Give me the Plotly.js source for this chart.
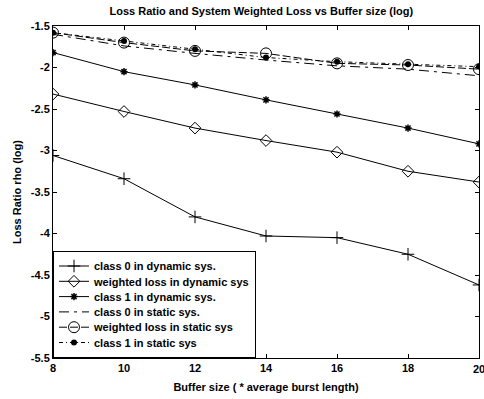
<!DOCTYPE html>
<html>
<head>
<meta charset="utf-8">
<script src="https://cdn.plot.ly/plotly-3.0.1.min.js"></script>
<style>html,body{margin:0;padding:0;background:#fff;}</style>
</head>
<body>
<div id="chart" style="width:484px;height:399px;"></div>
<script>
const bufferSize = [8, 10, 12, 14, 16, 18, 20];
const class0Dynamic = [-3.06, -3.34, -3.80, -4.03, -4.05, -4.25, -4.62];
const weightedDynamic = [-2.32, -2.53, -2.73, -2.88, -3.02, -3.25, -3.38];
const class1Dynamic = [-1.82, -2.05, -2.21, -2.39, -2.56, -2.73, -2.92];
const class0Static = [-1.60, -1.74, -1.83, -1.91, -1.98, -2.02, -2.10];
const weightedStatic = [-1.58, -1.70, -1.80, -1.83, -1.95, -1.97, -2.02];
const class1Static = [-1.58, -1.68, -1.78, -1.88, -1.93, -1.96, -1.99];
const seriesNames = ["class 0 in dynamic sys.", "weighted loss in dynamic sys", "class 1 in dynamic sys.",
  "class 0 in static sys.", "weighted loss in static sys", "class 1 in static sys"];
const xTickLabels = ["8", "10", "12", "14", "16", "18", "20"];

const blk = "#000";
const ln = {color: blk, width: 1};
const traces = [
  {x: bufferSize, y: class0Dynamic, name: seriesNames[0], mode: "lines+markers",
   line: Object.assign({}, ln), marker: {symbol: "cross-thin-open", size: 9, color: blk, line: {width: 1, color: blk}}},
  {x: bufferSize, y: weightedDynamic, name: seriesNames[1], mode: "lines+markers",
   line: Object.assign({}, ln), marker: {symbol: "diamond-open", size: 9, color: blk, line: {width: 1, color: blk}}},
  {x: bufferSize, y: class1Dynamic, name: seriesNames[2], mode: "lines+markers",
   line: Object.assign({}, ln), marker: {symbol: "asterisk-open", size: 6, color: blk, line: {width: 1.5, color: blk}}},
  {x: bufferSize, y: class0Static, name: seriesNames[3], mode: "lines",
   line: {color: blk, width: 1, dash: "10px,5px,3px,5px"}},
  {x: bufferSize, y: weightedStatic, name: seriesNames[4], mode: "lines+markers",
   line: {color: blk, width: 1, dash: "8px,3px"}, marker: {symbol: "circle-open", size: 11, color: blk, line: {width: 1, color: blk}}},
  {x: bufferSize, y: class1Static, name: seriesNames[5], mode: "lines+markers",
   line: {color: blk, width: 1, dash: "4px,3px,1px,3px"}, marker: {symbol: "circle", size: 6, color: blk}}
];

const fnt = {family: "Liberation Sans, Arial, sans-serif", size: 11, color: blk, weight: "bold"};
const layout = {
  width: 484, height: 399,
  margin: {l: 53, r: 5, t: 26, b: 41, pad: 0},
  paper_bgcolor: "#fff", plot_bgcolor: "#fff",
  showlegend: true,
  font: fnt,
  title: {text: "Loss Ratio and System Weighted Loss vs Buffer size (log)", font: fnt, x: 0.54, xanchor: "center", y: 0.972, yanchor: "middle"},
  xaxis: {
    range: [8, 20], tickvals: bufferSize, ticktext: xTickLabels,
    ticks: "inside", ticklen: 4, tickcolor: blk, showline: true, linecolor: blk, linewidth: 1, mirror: "ticks",
    showgrid: false, zeroline: false, tickfont: fnt,
    title: {text: "Buffer size ( * average burst length)", font: fnt, standoff: 10}
  },
  yaxis: {
    range: [-5.5, -1.5], tickvals: [-5.5, -5, -4.5, -4, -3.5, -3, -2.5, -2, -1.5],
    ticktext: ["-5.5", "-5", "-4.5", "-4", "-3.5", "-3", "-2.5", "-2", "-1.5"],
    ticks: "inside", ticklen: 4, tickcolor: blk, showline: true, linecolor: blk, linewidth: 1, mirror: "ticks",
    showgrid: false, zeroline: false, tickfont: fnt,
    title: {text: "Loss Ratio rho (log)", font: fnt, standoff: 6}
  },
  annotations: [{
    xref: "x", yref: "paper", x: bufferSize[bufferSize.length - 1], y: 0, yanchor: "top", yshift: -3,
    text: xTickLabels[xTickLabels.length - 1], showarrow: false, font: fnt
  }],
  legend: {
    x: 0, y: 0, xanchor: "left", yanchor: "bottom",
    bgcolor: "#fff", bordercolor: blk, borderwidth: 1,
    font: fnt, tracegroupgap: 0, itemwidth: 30
  }
};
Plotly.newPlot("chart", traces, layout, {displayModeBar: false, staticPlot: true}).then(function (gd) {
  // tighten legend row spacing to match the reference
  const leg = gd.querySelector(".legend");
  if (!leg) return;
  const items = leg.querySelectorAll(".traces");
  const step = 15.3;
  let firstY = null, oldLast = null;
  items.forEach(function (el, i) {
    const m = /translate\(([-\d.]+)[ ,]+([-\d.]+)\)/.exec(el.getAttribute("transform") || "");
    if (!m) return;
    const tx = parseFloat(m[1]), ty = parseFloat(m[2]);
    if (firstY === null) firstY = ty;
    oldLast = ty;
    el.setAttribute("transform", "translate(" + tx + "," + (firstY + i * step) + ")");
  });
  const newLast = firstY + (items.length - 1) * step;
  const delta = oldLast - newLast;
  const bg = leg.querySelector("rect.bg");
  if (bg) bg.setAttribute("height", parseFloat(bg.getAttribute("height")) - delta);
  const m2 = /translate\(([-\d.]+)[ ,]+([-\d.]+)\)/.exec(leg.getAttribute("transform") || "");
  if (m2) leg.setAttribute("transform", "translate(" + m2[1] + "," + (parseFloat(m2[2]) + delta) + ")");
  const sb = leg.querySelector(".scrollbox");
  const clip = gd.querySelector("clipPath[id^='legend'] rect");
  if (clip) clip.setAttribute("height", parseFloat(clip.getAttribute("height")) - delta);
});
</script>
</body>
</html>
